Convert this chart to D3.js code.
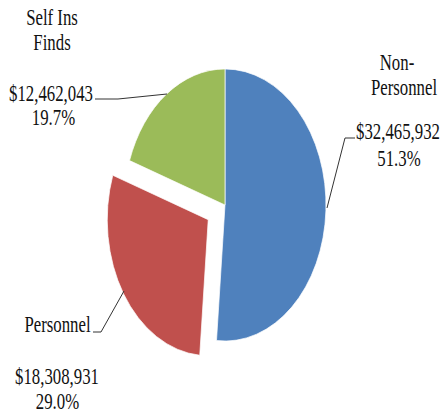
<!DOCTYPE html>
<html><head><meta charset="utf-8">
<script src="https://cdn.jsdelivr.net/npm/d3@7"></script>
<style>html,body{margin:0;padding:0;background:#fff;}svg{display:block;}</style>
</head><body>
<svg id="chart" width="442" height="415"></svg>
<script>
// ---- data ----
const categories = ["Non-Personnel", "Personnel", "Self Ins Finds"];
const values = [32465932, 18308931, 12462043];
const colors = ["#4F81BD", "#C0504D", "#9BBB59"];
const exploded = [0, 1, 0];

// ---- layout ----
const W = 442, H = 415;
const cx = 225, cy = 205, R = 101, sy = 1.347;
const explodeDist = 20;
const fs = 16.8, tsy = 1.32;

const svg = d3.select("#chart");
const total = d3.sum(values);
const pie = d3.pie().sort(null).value(d => d)(values);
const arc = d3.arc().innerRadius(0).outerRadius(R);

const g = svg.append("g").attr("transform", `translate(${cx},${cy}) scale(1,${sy})`);
g.selectAll("path").data(pie).enter().append("path")
  .attr("d", arc)
  .attr("fill", (d, i) => colors[i])
  .attr("stroke", "#fff").attr("stroke-width", 0.6)
  .attr("transform", (d, i) => {
    const a = (d.startAngle + d.endAngle) / 2;
    const k = exploded[i] ? explodeDist : 0;
    return `translate(${Math.sin(a) * k},${-Math.cos(a) * k})`;
  });

// labels: lines (centered x, baseline y, content), leader polyline
const fmtMoney = d3.format("$,");
const fmtPct = d3.format(".1%");
const labelLayout = [
  { lines: [[397, 70, "Non-"], [404, 95, "Personnel"], [398, 139, "v"], [399, 166, "p"]],
    leader: [[355, 138], [345, 138], [327, 208]] },
  { lines: [[57.5, 332, "Personnel"], [57, 384, "v"], [57.5, 409, "p"]],
    leader: [[93, 332], [101, 332], [124, 291]] },
  { lines: [[52, 25, "Self Ins"], [52, 50, "Finds"], [51, 101, "v"], [53.5, 125, "p"]],
    leader: [[95, 99], [118, 99], [167, 94]] }
];

labelLayout.forEach((L, i) => {
  L.lines.forEach(([x, y, t]) => {
    const txt = t === "v" ? fmtMoney(values[i]) : t === "p" ? fmtPct(values[i] / total) : t;
    svg.append("text")
      .attr("transform", `translate(${x},${y}) scale(1,${tsy})`)
      .attr("text-anchor", "middle")
      .attr("font-family", "\"Liberation Serif\"")
      .attr("font-size", fs)
      .attr("fill", "#111")
      .text(txt);
  });
  svg.append("path")
    .attr("d", d3.line()(L.leader))
    .attr("fill", "none")
    .attr("stroke", "#333")
    .attr("stroke-width", 1);
});
</script>
</body></html>
